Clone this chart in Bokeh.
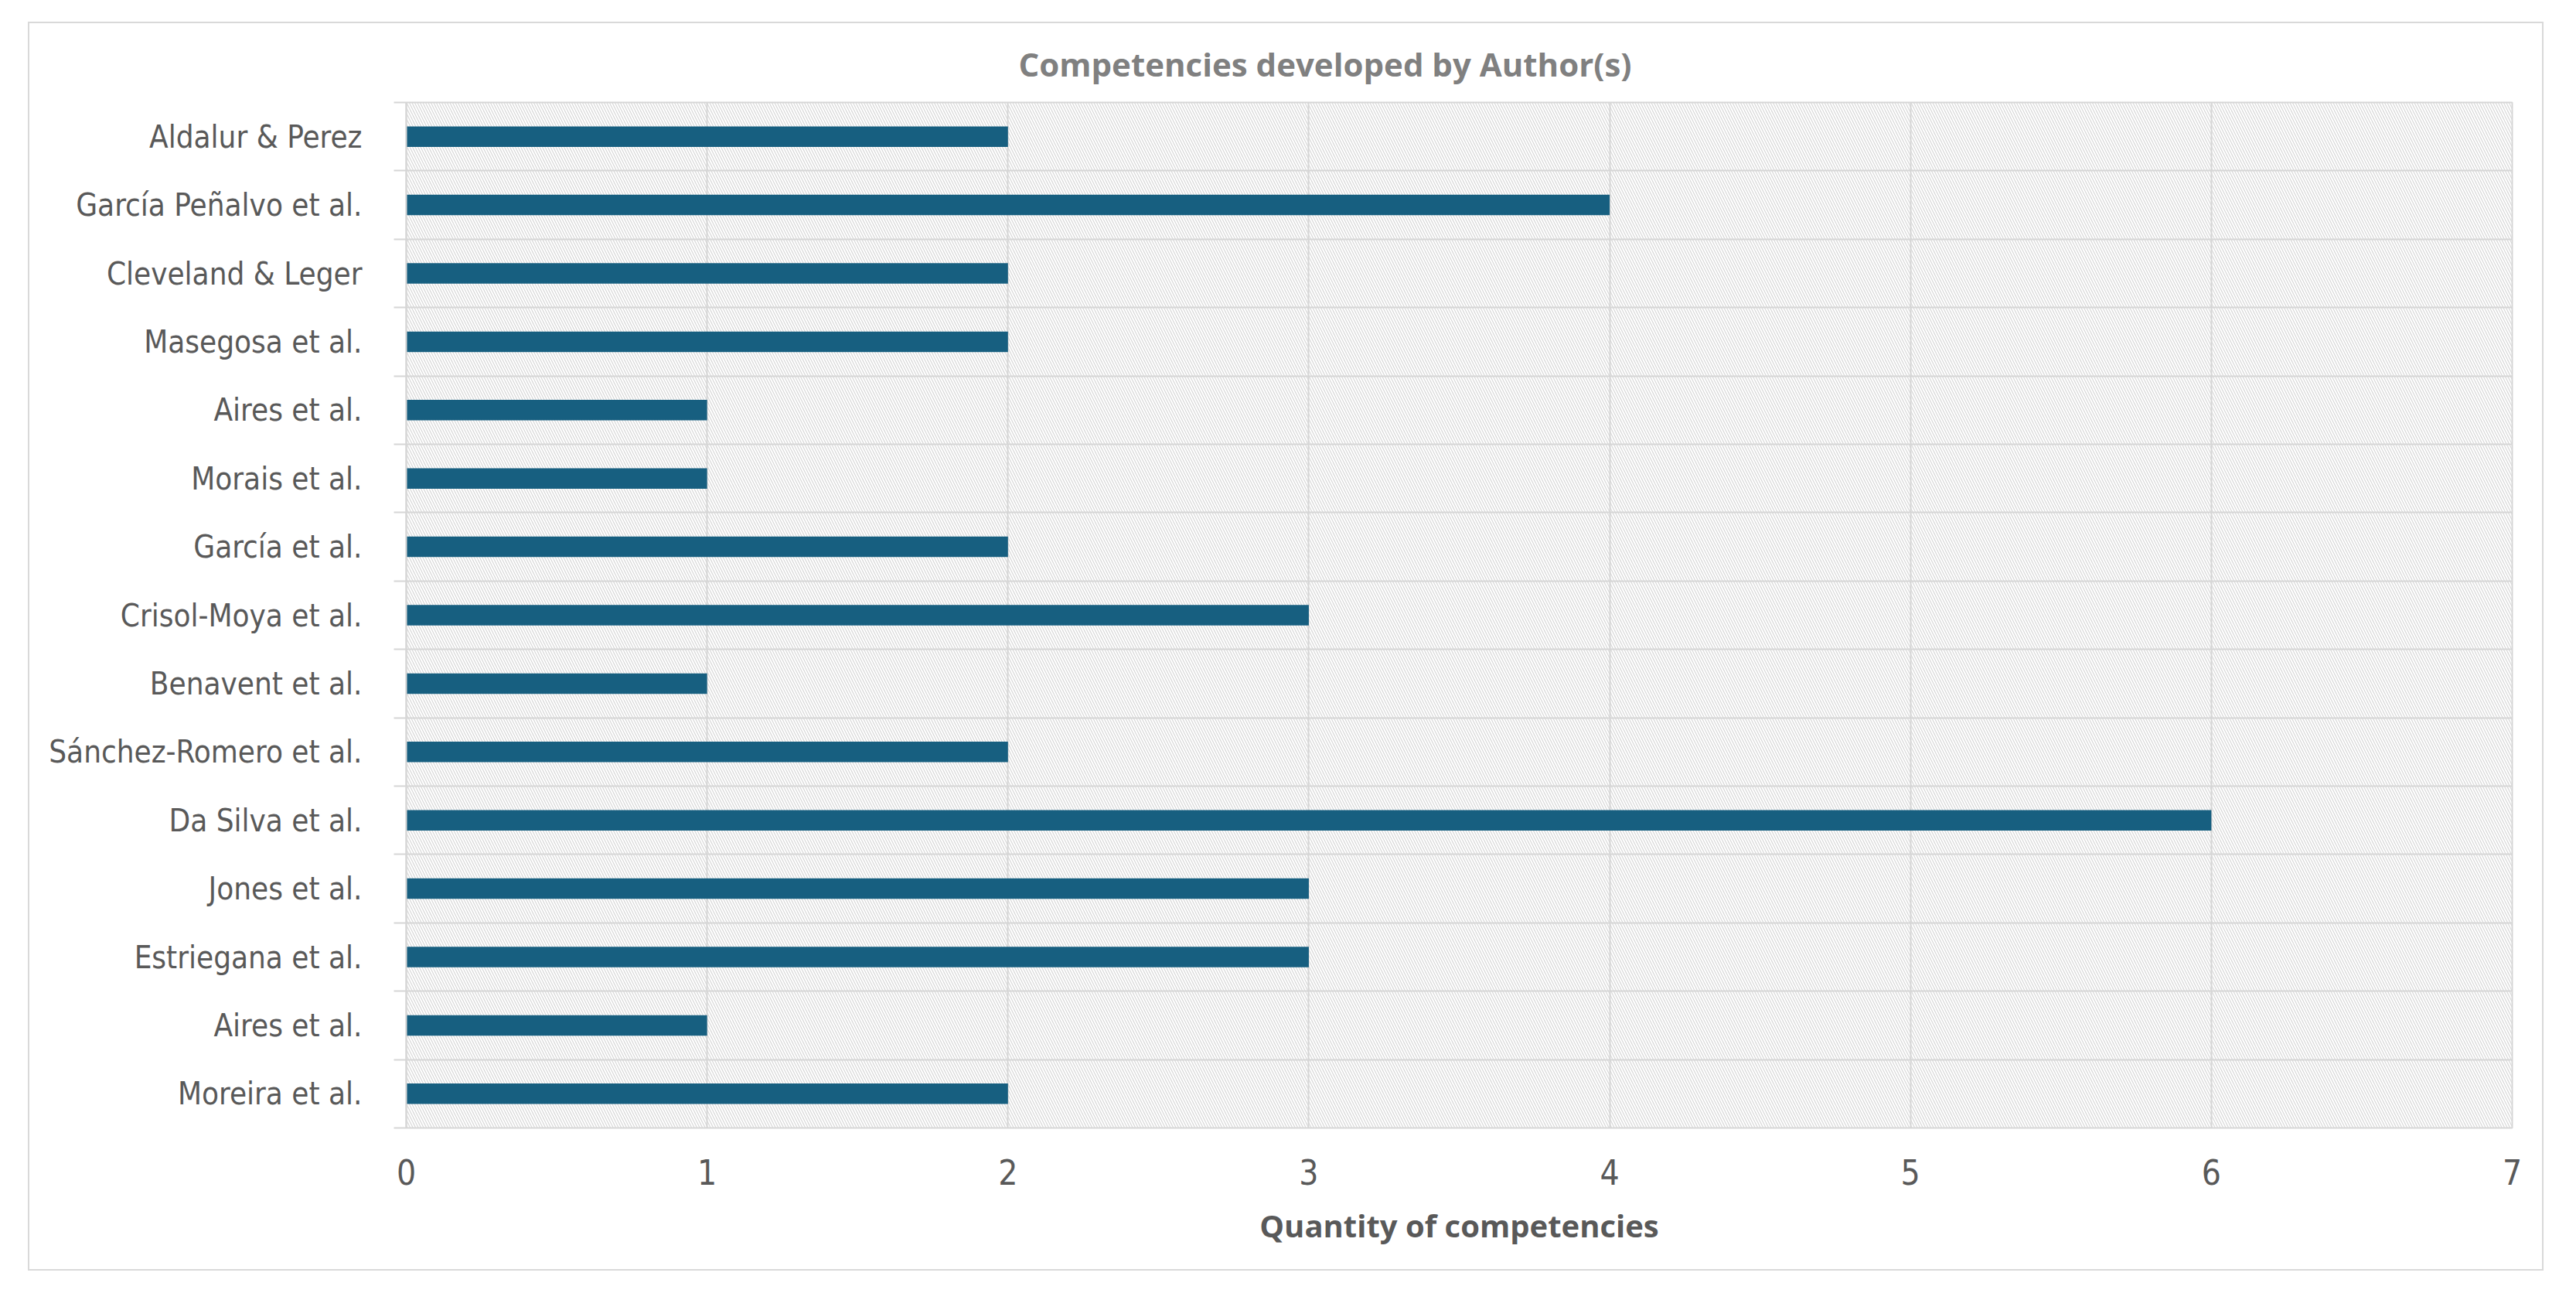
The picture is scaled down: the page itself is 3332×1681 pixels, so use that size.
from bokeh.plotting import figure
from bokeh.models import FixedTicker, BoxAnnotation, Title
from bokeh.embed import file_html
from bokeh.resources import INLINE

authors = ["Aldalur & Perez", "García Peñalvo et al.", "Cleveland & Leger", "Masegosa et al.",
           "Aires et al.", "Morais et al.", "García et al.", "Crisol-Moya et al.",
           "Benavent et al.", "Sánchez-Romero et al.", "Da Silva et al.", "Jones et al.",
           "Estriegana et al.", "Aires et al.", "Moreira et al."]
competencies = [2, 4, 2, 2, 1, 1, 2, 3, 1, 2, 6, 3, 3, 1, 2]
x_ticks = [0, 1, 2, 3, 4, 5, 6, 7]
title_text = "Competencies developed by Author(s)"
x_label = "Quantity of competencies"

n = len(authors)
pos = [n - i - 0.5 for i in range(n)]
bounds = list(range(n + 1))

GRID = "#d6d6d6"
TXT = "#595959"
LABEL_FONT = "DejaVu Sans Condensed, Roboto"

p = figure(width=3254, height=1615, x_range=(0, 7), y_range=(0, n),
           output_backend="svg", toolbar_location=None,
           min_border_left=487, min_border_right=43, min_border_top=102, min_border_bottom=187,
           styles={"margin-left": "36px", "margin-top": "28px", "border": "2px solid #d9d9d9"})

p.add_layout(Title(text=title_text, align="left", offset=792, vertical_align="top",
                   text_line_height=0.8,
                   text_font="Open Sans", text_font_style="bold", text_font_size="42px",
                   text_color="#808080", standoff=39), "above")

hatch = BoxAnnotation(left=0, right=7, bottom=0, top=n, fill_color=None, line_color=None,
                      hatch_pattern="\\", hatch_color="#d9d9d9", hatch_scale=7,
                      hatch_weight=1.25, level="image")
p.add_layout(hatch)

p.hbar(y=pos, right=competencies, left=0, height=0.3, fill_color="#175F80", line_color=None)

p.background_fill_color = "white"
p.border_fill_color = "white"
p.outline_line_color = GRID
p.outline_line_width = 2

p.xgrid.ticker = FixedTicker(ticks=x_ticks)
p.xgrid.grid_line_color = GRID
p.xgrid.grid_line_width = 2
p.ygrid.ticker = FixedTicker(ticks=bounds)
p.ygrid.grid_line_color = GRID
p.ygrid.grid_line_width = 2

xa = p.xaxis[0]
xa.ticker = FixedTicker(ticks=x_ticks)
xa.axis_line_color = None
xa.major_tick_line_color = None
xa.minor_tick_line_color = None
xa.major_label_text_font = LABEL_FONT
xa.major_label_text_font_size = "44px"
xa.major_label_text_color = TXT
xa.major_label_standoff = 34
xa.axis_label = x_label
xa.axis_label_text_font = "Open Sans"
xa.axis_label_text_font_style = "bold"
xa.axis_label_text_font_size = "40px"
xa.axis_label_text_color = TXT
xa.axis_label_standoff = 22

ya = p.yaxis[0]
ya.ticker = FixedTicker(ticks=pos, minor_ticks=bounds)
ya.major_label_overrides = {pv: a for pv, a in zip(pos, authors)}
ya.axis_line_color = GRID
ya.axis_line_width = 2
ya.major_tick_line_color = None
ya.major_tick_out = 0
ya.major_tick_in = 0
ya.minor_tick_line_color = GRID
ya.minor_tick_line_width = 2
ya.minor_tick_out = 16
ya.minor_tick_in = 0
ya.major_label_text_font = LABEL_FONT
ya.major_label_text_font_size = "40px"
ya.major_label_text_color = TXT
ya.major_label_standoff = 41

open("out.html", "w").write(file_html(p, INLINE))
